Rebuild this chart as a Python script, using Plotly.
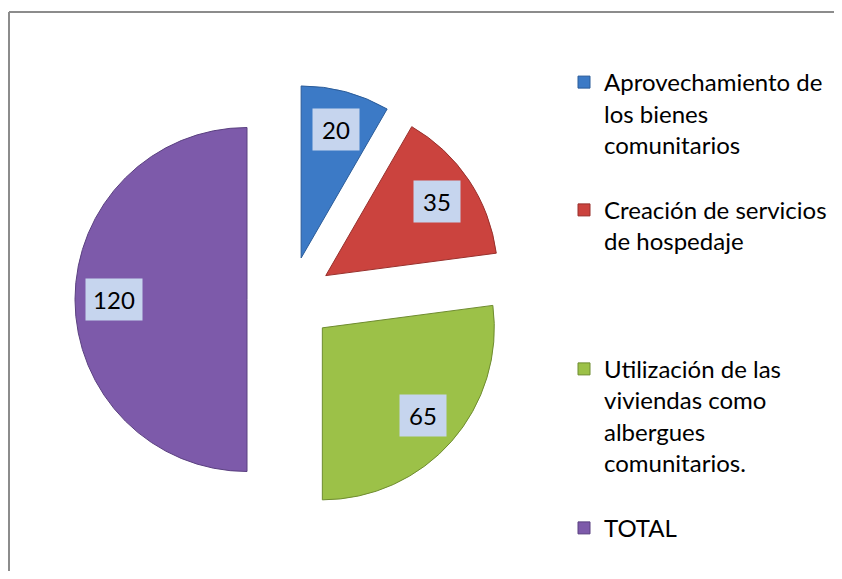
import math
import plotly.graph_objects as go

# ---- data ----
categories = [
    "Aprovechamiento de<br>los bienes<br>comunitarios",
    "Creación de servicios<br>de hospedaje",
    "Utilización de las<br>viviendas como<br>albergues<br>comunitarios.",
    "TOTAL",
]
values = [20, 35, 65, 120]
colors = ["#3C7AC6", "#CB433E", "#9CC148", "#7D5AAA"]
edge_colors = ["#2B5C99", "#98302C", "#6F8C30", "#5A4080"]
# blank lines added after each legend entry (spacing like the original legend)
legend_pad_lines = [1, 3, 1, 0]

# ---- layout constants (window pixel coordinates) ----
OFF = 8                          # default page body margin
W, H = 842 - 2 * OFF, 579 - 2 * OFF  # figure size (fits in the window)
CX, CY = 290.0 - OFF, 299.5 - OFF    # pie centre in figure px
R = 172.0                        # pie radius in px
PULL = 0.25
FONT = "Lato"
FS = 24

half = R * (1 + PULL)
dom_x = [(CX - half) / W, (CX + half) / W]
dom_y = [1 - (CY + half) / H, 1 - (CY - half) / H]

legend_labels = [c + "<br> " * n for c, n in zip(categories, legend_pad_lines)]

fig = go.Figure(
    go.Pie(
        labels=legend_labels,
        values=values,
        sort=False,
        direction="clockwise",
        rotation=0,
        pull=[PULL] * len(values),
        marker=dict(colors=colors, line=dict(color=edge_colors, width=1)),
        textinfo="none",
        hoverinfo="label+value",
        domain=dict(x=dom_x, y=dom_y),
    )
)

# data labels in boxes, placed along each slice's mid angle
total = sum(values)
annotations = []
cum = 0
for v in values:
    mid = (cum + v / 2) / total * 2 * math.pi
    cum += v
    dx, dy = math.sin(mid), -math.cos(mid)
    f = PULL + 0.775
    px = CX + f * R * dx
    py = CY + f * R * dy
    annotations.append(
        dict(
            x=px / W, y=1 - py / H, xref="paper", yref="paper",
            text=str(v), showarrow=False,
            font=dict(family=FONT, size=FS, color="#000000"),
            bgcolor="#C6D5EE", borderpad=5,
            width=36 if v < 100 else 46, height=31,
            xanchor="center", yanchor="middle",
        )
    )

bx = (9 - OFF) / W
by = 1 - (12 - OFF) / H
fig.update_layout(
    width=W, height=H,
    margin=dict(l=0, r=0, t=0, b=0),
    paper_bgcolor="white",
    plot_bgcolor="white",
    font=dict(family=FONT, size=FS, color="#000000"),
    showlegend=True,
    legend=dict(
        x=(564 - OFF) / W, xanchor="left",
        y=1 - (60 - OFF) / H, yanchor="top",
        valign="top",
        font=dict(family=FONT, size=FS, color="#000000"),
        bgcolor="rgba(0,0,0,0)",
        borderwidth=0,
    ),
    annotations=annotations,
    shapes=[
        dict(type="line", xref="paper", yref="paper",
             x0=bx, x1=1.0, y0=by, y1=by,
             line=dict(color="#8C8C8C", width=2), layer="below"),
        dict(type="line", xref="paper", yref="paper",
             x0=bx, x1=bx, y0=0.0, y1=by,
             line=dict(color="#8C8C8C", width=2), layer="below"),
    ],
)

fig.write_html("out.html")
